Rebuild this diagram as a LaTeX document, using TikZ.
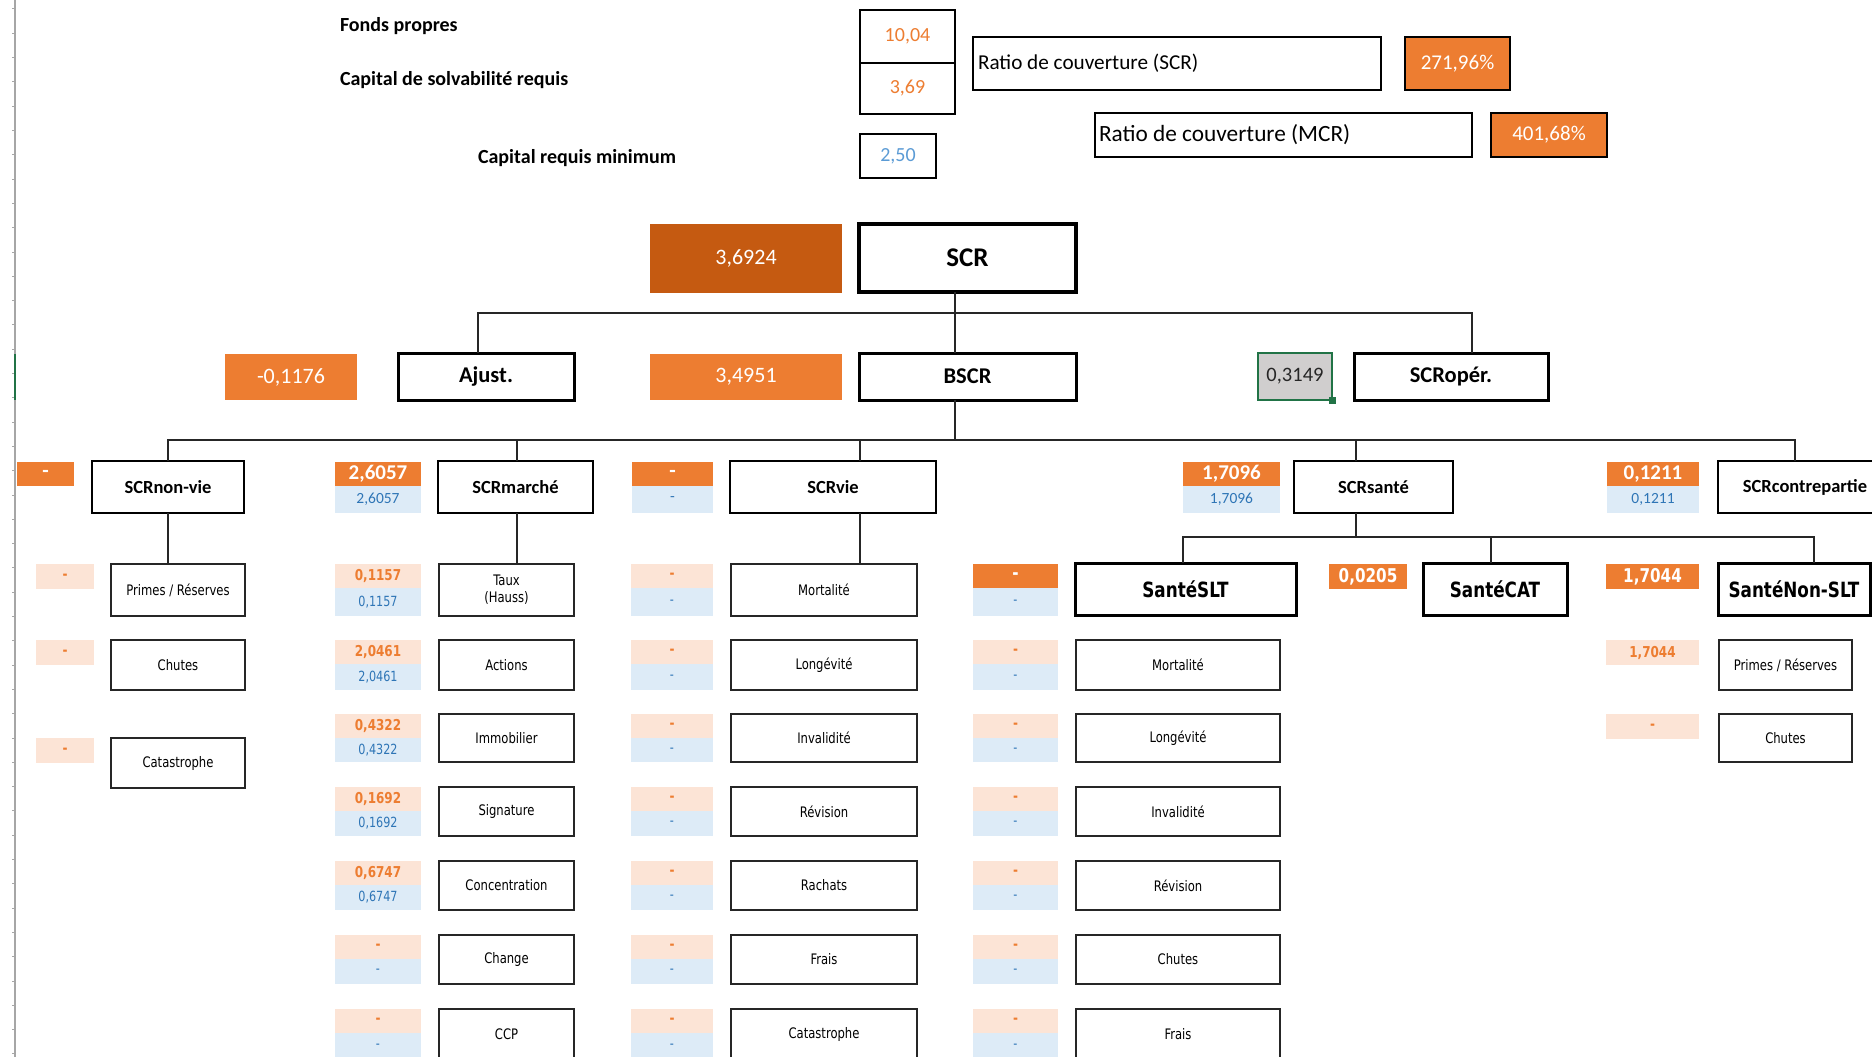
\documentclass[tikz,border=0pt]{standalone}
\usepackage{fontspec}
\setmainfont{Carlito}
\newfontfamily\pix[FakeStretch=0.8]{DejaVu Sans}
\usetikzlibrary{calc}
\definecolor{orA}{HTML}{ED7D31}
\definecolor{orD}{HTML}{C55A11}
\definecolor{orL}{HTML}{FCE4D6}
\definecolor{blL}{HTML}{DDEBF7}
\definecolor{blT}{HTML}{2E75B6}
\definecolor{blTT}{HTML}{5B9BD5}
\definecolor{grF}{HTML}{D0CECE}
\definecolor{grE}{HTML}{217346}
\definecolor{lnC}{HTML}{262626}
\newcommand\fsz[1]{\fontsize{#1}{#1}\selectfont}
\newcommand\mybox[7]{\node[cell,#6,minimum width={(#4)-(#2)},minimum height={(#5)-(#3)}] (#1) at ({((#2)+(#4))/2},{((#3)+(#5))/2}) {#7};}
\tikzset{
  cell/.style={inner sep=0pt,outer sep=0pt,align=center,anchor=center},
  info/.style={draw=black,line width=1.5pt,fill=white},
  hdr/.style={draw=black,line width=3pt,fill=white,font=\bfseries\fsz{22.5}},
  hdrc/.style={draw=black,line width=2.8pt,fill=white,font=\bfseries\fsz{18.5}},
  hdrs/.style={draw=black,line width=3pt,fill=white,font=\pix\bfseries\fsz{21}},
  leaf/.style={draw=black!85,line width=2pt,fill=white,font=\pix\fontsize{14.5}{17}\selectfont},
  bigv/.style={fill=orA,text=white,font=\fsz{22}},
  lo/.style={fill=orL,text=orA,font=\pix\bfseries\fsz{15}},
  lb/.style={fill=blL,text=blT,font=\pix\fsz{14}},
  cb/.style={fill=blL,text=blT,font=\fsz{15.5}},
  co/.style={fill=orA,text=white,font=\bfseries\fsz{21}},
  so/.style={fill=orA,text=white,font=\pix\bfseries\fsz{19}},
  conn/.style={draw=lnC,line width=2pt},
  lbl/.style={inner sep=0pt,outer sep=0pt,font=\bfseries\fsz{20},anchor=base west}
}
\begin{document}
\begin{tikzpicture}[x=1pt,y=-1pt]
\useasboundingbox (0,0) rectangle (1872,1057);
\fill[white] (0,0) rectangle (1872,1057);
% spreadsheet edge
\draw[black!35,line width=1.5pt] (15,0) -- (15,1057);
\foreach \k in {0,...,43}{\draw[black!35,line width=1pt] (12,{9+24.3*\k}) -- (15,{9+24.3*\k});}
\draw[grE,line width=2.5pt] (15,354) -- (15,400);

% ---------- top information ----------
\node[lbl] (tfp) at (340,32) {Fonds propres};
\node[lbl] (tcs) at (340,85) {Capital de solvabilité requis};
\node[lbl] (tcm) at (478,163) {Capital requis minimum};
\mybox{fp}{860}{10}{955}{63}{info,font=\fsz{20},text=orA}{10,04}
\mybox{scrv}{860}{63}{955}{114}{info,font=\fsz{20},text=orA}{3,69}
\mybox{mcrv}{860}{134}{936}{178}{info,font=\fsz{20},text=blTT}{2,50}
\mybox{rscr}{973}{37}{1381}{90}{info}{}
\node[cell,anchor=west,font=\fsz{21.2}] (rscrt) at ([xshift=5pt]rscr.west) {Ratio de couverture (SCR)};
\mybox{rscrv}{1405}{37}{1510}{90}{info,fill=orA,text=white,font=\fsz{21}}{271,96\%}
\mybox{rmcr}{1095}{113}{1472}{157}{info}{}
\node[cell,anchor=west,font=\fsz{23.3}] (rmcrt) at ([xshift=4pt]rmcr.west) {Ratio de couverture (MCR)};
\mybox{rmcrv}{1491}{113}{1607}{157}{info,fill=orA,text=white,font=\fsz{21}}{401,68\%}

% ---------- level 1 ----------
\mybox{v0}{650}{224}{842}{293}{fill=orD,text=white,font=\fsz{22}}{3,6924}
\mybox{SCR}{859}{224}{1076}{292}{hdr,line width=3.5pt,font=\bfseries\fsz{27}}{SCR}

% ---------- level 2 ----------
\mybox{v1}{225}{354}{357}{400}{bigv}{-0,1176}
\mybox{Ajust}{398}{353}{574}{400}{hdr}{Ajust.}
\mybox{v2}{650}{354}{842}{400}{bigv}{3,4951}
\mybox{BSCR}{859}{353}{1076}{400}{hdr}{BSCR}
\mybox{v3}{1258}{353}{1332}{400}{fill=grF,draw=grE,line width=2.5pt,text=black!85,font=\fsz{20.5}}{0,3149}
\fill[grE] ([shift={(-3,-3)}]v3.south east) rectangle ([shift={(4,4)}]v3.south east);
\mybox{SCRop}{1354}{353}{1548}{400}{hdr}{SCRopér.}

% ---------- level 3 ----------
\mybox{w1}{17}{462}{74}{486}{co}{-}
\mybox{NV}{92}{461}{244}{513}{hdrc}{SCRnon-vie}
\mybox{w2o}{335}{462}{421}{486}{co}{2,6057}
\mybox{w2b}{335}{486}{421}{513}{cb}{2,6057}
\mybox{MA}{438}{461}{593}{513}{hdrc}{SCRmarché}
\mybox{w3o}{632}{462}{713}{486}{co}{-}
\mybox{w3b}{632}{486}{713}{513}{cb}{-}
\mybox{VIE}{730}{461}{936}{513}{hdrc}{SCRvie}
\mybox{w4o}{1183}{462}{1280}{486}{co}{1,7096}
\mybox{w4b}{1183}{486}{1280}{513}{cb}{1,7096}
\mybox{SA}{1294}{461}{1453}{513}{hdrc}{SCRsanté}
\mybox{w5o}{1607}{462}{1699}{486}{co}{0,1211}
\mybox{w5b}{1607}{486}{1699}{513}{cb}{0,1211}
\mybox{CP}{1718}{461}{1892}{513}{hdrc}{SCRcontrepartie}

% ---------- santé sub-headers ----------
\mybox{s1o}{973}{564}{1058}{588}{so}{-}
\mybox{s1b}{973}{588}{1058}{616}{lb}{-}
\mybox{SLT}{1075}{563}{1296}{615}{hdrs}{SantéSLT}
\mybox{s2o}{1329}{564}{1407}{589}{so}{0,0205}
\mybox{CAT}{1423}{563}{1567}{615}{hdrs}{SantéCAT}
\mybox{s3o}{1606}{564}{1699}{589}{so}{1,7044}
\mybox{NSLT}{1718}{563}{1870}{615}{hdrs}{SantéNon-SLT}

% ---------- non-vie leaves ----------
\foreach \r/\b/\lab [count=\i] in {564/616/{Primes / Réserves}, 640/690/Chutes, 738/788/Catastrophe}{
  \mybox{nv\i}{111}{\r}{245}{\b}{leaf}{\lab}
  \mybox{nvo\i}{36}{\r}{94}{\r+25}{lo}{-}
}
% ---------- marché leaves ----------
\foreach \r/\b/\lab/\v [count=\i] in {564/616/{Taux\\(Hauss)}/{0,1157}, 640/690/Actions/{2,0461}, 714/762/Immobilier/{0,4322}, 787/836/Signature/{0,1692}, 861/910/Concentration/{0,6747}, 935/984/Change/-, 1009/1059/CCP/-}{
  \mybox{ma\i}{439}{\r}{574}{\b}{leaf}{\lab}
  \mybox{mao\i}{335}{\r}{421}{\r+24}{lo}{\v}
  \mybox{mab\i}{335}{\r+24}{421}{\b}{lb}{\v}
}
% ---------- vie leaves ----------
\foreach \r/\b/\lab [count=\i] in {564/616/Mortalité, 640/690/Longévité, 714/762/Invalidité, 787/836/Révision, 861/910/Rachats, 935/984/Frais, 1009/1059/Catastrophe}{
  \mybox{vi\i}{731}{\r}{917}{\b}{leaf}{\lab}
  \mybox{vio\i}{631}{\r}{713}{\r+24}{lo}{-}
  \mybox{vib\i}{631}{\r+24}{713}{\b}{lb}{-}
}
% ---------- santé SLT leaves ----------
\foreach \r/\b/\lab [count=\i] in {640/690/Mortalité, 714/762/Longévité, 787/836/Invalidité, 861/910/Révision, 935/984/Chutes, 1009/1059/Frais}{
  \mybox{sl\i}{1076}{\r}{1280}{\b}{leaf}{\lab}
  \mybox{slo\i}{973}{\r}{1058}{\r+24}{lo}{-}
  \mybox{slb\i}{973}{\r+24}{1058}{\b}{lb}{-}
}
% ---------- santé non-SLT leaves ----------
\foreach \r/\b/\lab/\v [count=\i] in {640/690/{Primes / Réserves}/{1,7044}, 714/762/Chutes/-}{
  \mybox{ns\i}{1719}{\r}{1852}{\b}{leaf}{\lab}
  \mybox{nso\i}{1606}{\r}{1699}{\r+25}{lo}{\v}
}

% ---------- connectors ----------
\coordinate (j1) at (955,313);
\coordinate (jA) at (478,313);
\coordinate (jO) at (1472,313);
\draw[conn] (SCR.south -| j1) -- (BSCR.north -| j1);
\draw[conn] (Ajust.north -| jA) -- (jA) -- (jO) -- (SCRop.north -| jO);
\coordinate (k0) at (955,440);
\coordinate (c1) at (168,440);
\coordinate (c2) at (517,440);
\coordinate (c3) at (860,440);
\coordinate (c4) at (1356,440);
\coordinate (c5) at (1795,440);
\draw[conn] (BSCR.south -| k0) -- (k0);
\draw[conn] (NV.north -| c1) -- (c1) -- (c5) -- (CP.north -| c5);
\draw[conn] (MA.north -| c2) -- (c2);
\draw[conn] (VIE.north -| c3) -- (c3);
\draw[conn] (SA.north -| c4) -- (c4);
\draw[conn] (NV.south -| c1) -- (nv1.north -| c1);
\draw[conn] (MA.south -| c2) -- (ma1.north -| c2);
\draw[conn] (VIE.south -| c3) -- (vi1.north -| c3);
\coordinate (d0) at (1356,537);
\coordinate (d1) at (1183,537);
\coordinate (d2) at (1491,537);
\coordinate (d3) at (1814,537);
\draw[conn] (SA.south -| d0) -- (d0);
\draw[conn] (SLT.north -| d1) -- (d1) -- (d3) -- (NSLT.north -| d3);
\draw[conn] (CAT.north -| d2) -- (d2);
\end{tikzpicture}
\end{document}
